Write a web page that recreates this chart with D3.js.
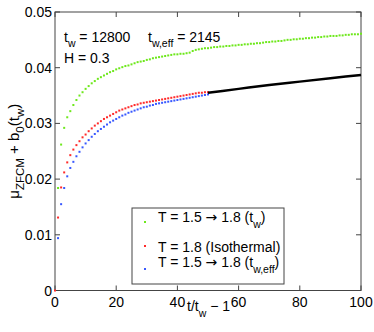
<!DOCTYPE html>
<html>
<head>
<meta charset="utf-8">
<script src="https://d3js.org/d3.v7.min.js"></script>
<style>
  body { margin: 0; background: #fff; }
  text { font-family: "Liberation Sans", Arial, sans-serif; fill: #000; }
  .arrow { font-family: "DejaVu Sans", sans-serif; }
</style>
</head>
<body>
<svg id="chart" width="374" height="332"></svg>
<script>
// values
const xTicks = [0, 20, 40, 60, 80, 100];
const yTicks = [0, 0.01, 0.02, 0.03, 0.04, 0.05];

// T = 1.5 -> 1.8 (t_w), sampled at t/t_w - 1 = 1..100
const greenVals = [
  0.0184, 0.0262, 0.0292, 0.0311, 0.0322, 0.0333, 0.0342, 0.0350, 0.0356, 0.0362,
  0.0367, 0.0372, 0.0376, 0.0380, 0.0383, 0.0386, 0.0389, 0.0392, 0.0394, 0.0397,
  0.0399, 0.0401, 0.0403, 0.0404, 0.0406, 0.0408, 0.0410, 0.0411, 0.0412, 0.0414,
  0.0415, 0.0417, 0.0418, 0.0419, 0.0420, 0.0421, 0.0422, 0.0423, 0.0424, 0.0424,
  0.0425, 0.0425, 0.0426, 0.0427, 0.0430, 0.0432, 0.0433, 0.0434, 0.0435, 0.0435,
  0.0436, 0.0437, 0.0437, 0.0438, 0.0438, 0.0439, 0.0439, 0.0440, 0.0440, 0.0441,
  0.0441, 0.0442, 0.0442, 0.0443, 0.0443, 0.0444, 0.0444, 0.0445, 0.0446, 0.0446,
  0.0447, 0.0447, 0.0448, 0.0448, 0.0449, 0.0450, 0.0450, 0.0451, 0.0451, 0.0452,
  0.0452, 0.0453, 0.0453, 0.0454, 0.0454, 0.0455, 0.0455, 0.0456, 0.0456, 0.0457,
  0.0457, 0.0457, 0.0458, 0.0458, 0.0459, 0.0459, 0.0460, 0.0460, 0.0460, 0.0461
];

// T = 1.8 isothermal, t/t_w - 1 = 0..50
const redVals = [
  0.0000, 0.0131, 0.0185, 0.0212, 0.0230, 0.0243, 0.0253, 0.0261, 0.0268, 0.0275,
  0.0280, 0.0286, 0.0291, 0.0296, 0.0300, 0.0304, 0.0308, 0.0311, 0.0314, 0.0317,
  0.0320, 0.0323, 0.0325, 0.0327, 0.0329, 0.0331, 0.0333, 0.0334, 0.0336, 0.0337,
  0.0338, 0.0339, 0.0340, 0.0341, 0.0342, 0.0343, 0.0344, 0.0345, 0.0346, 0.0347,
  0.0348, 0.0349, 0.0350, 0.0351, 0.0352, 0.0353, 0.0354, 0.0355, 0.0355, 0.0356,
  0.0356
];

// T = 1.5 -> 1.8 (t_w,eff), t/t_w - 1 = 1..50
const blueVals = [
  0.0094, 0.0155, 0.0184, 0.0205, 0.0220, 0.0231, 0.0241, 0.0249, 0.0257, 0.0264,
  0.0270, 0.0276, 0.0281, 0.0286, 0.0290, 0.0294, 0.0298, 0.0302, 0.0305, 0.0308,
  0.0311, 0.0314, 0.0316, 0.0319, 0.0321, 0.0323, 0.0325, 0.0327, 0.0329, 0.0330,
  0.0332, 0.0333, 0.0335, 0.0336, 0.0337, 0.0338, 0.0339, 0.0340, 0.0341, 0.0342,
  0.0343, 0.0344, 0.0345, 0.0346, 0.0347, 0.0348, 0.0349, 0.0350, 0.0351, 0.0352
];

// black fit line
const fitX = [50, 60, 70, 80, 90, 100];
const fitVals = [0.0355, 0.0362, 0.0369, 0.0375, 0.0381, 0.0387];

const width = 374, height = 332;
const margin = { top: 12, right: 13, bottom: 41.5, left: 55 };
const fs = 14, subFs = 10.5;

const svg = d3.select("#chart");

const x = d3.scaleLinear().domain([0, 100]).range([margin.left, width - margin.right]);
const y = d3.scaleLinear().domain([0, 0.05]).range([height - margin.bottom, margin.top]);

const greenData = greenVals.map((v, i) => [i + 1, v]);
const redData = redVals.map((v, i) => [i, v]);
const blueData = blueVals.map((v, i) => [i + 1, v]);
const fitData = fitX.map((v, i) => [v, fitVals[i]]);

// frame
const x0 = x(0), x1 = x(100), y0 = y(0), y1 = y(0.05);
svg.append("rect")
  .attr("x", x0).attr("y", y1)
  .attr("width", x1 - x0).attr("height", y0 - y1)
  .attr("fill", "none").attr("stroke", "#444").attr("stroke-width", 1);

// ticks (inward, both sides)
const tickLen = 5;
svg.append("g").selectAll("line")
  .data(xTicks).join("line")
  .attr("x1", d => x(d)).attr("x2", d => x(d))
  .attr("y1", y0).attr("y2", y0 - tickLen)
  .attr("stroke", "#444");
svg.append("g").selectAll("line")
  .data(xTicks).join("line")
  .attr("x1", d => x(d)).attr("x2", d => x(d))
  .attr("y1", y1).attr("y2", y1 + tickLen)
  .attr("stroke", "#444");
svg.append("g").selectAll("line")
  .data(yTicks).join("line")
  .attr("x1", x0).attr("x2", x0 + tickLen)
  .attr("y1", d => y(d)).attr("y2", d => y(d))
  .attr("stroke", "#444");
svg.append("g").selectAll("line")
  .data(yTicks).join("line")
  .attr("x1", x1).attr("x2", x1 - tickLen)
  .attr("y1", d => y(d)).attr("y2", d => y(d))
  .attr("stroke", "#444");

// tick labels
svg.append("g").selectAll("text")
  .data(xTicks).join("text")
  .attr("x", d => x(d)).attr("y", y0 + 16)
  .attr("text-anchor", "middle")
  .style("font-size", fs + "px")
  .text(d => d);
svg.append("g").selectAll("text")
  .data(yTicks).join("text")
  .attr("x", x0 - 3).attr("y", d => y(d) + 5)
  .attr("text-anchor", "end")
  .style("font-size", fs + "px")
  .text(d => d === 0 ? "0" : d3.format(".2f")(d));

// data markers
function dots(data, color) {
  svg.append("g").selectAll("rect")
    .data(data).join("rect")
    .attr("x", d => x(d[0]) - 1).attr("y", d => y(d[1]) - 1)
    .attr("width", 2).attr("height", 2)
    .attr("fill", color);
}
dots(greenData, "#6ee81c");
dots(redData, "#ff2a2a");
dots(blueData, "#3858ff");

svg.append("path")
  .datum(fitData)
  .attr("fill", "none")
  .attr("stroke", "#000")
  .attr("stroke-width", 2.5)
  .attr("d", d3.line().x(d => x(d[0])).y(d => y(d[1])).curve(d3.curveMonotoneX));

// text with subscripts: parts = [[text, isSub, cls], ...]
function richText(g, parts, size, subSize, shift) {
  let sub = false;
  parts.forEach(([t, s, cls]) => {
    const ts = g.append("tspan").text(t).style("font-size", (s ? subSize : size) + "px");
    if (cls) ts.attr("class", cls);
    if (s && !sub) ts.attr("dy", shift);
    if (!s && sub) ts.attr("dy", -shift);
    sub = s;
  });
  return g;
}

richText(svg.append("text").attr("x", 64).attr("y", 42),
  [["t", false], ["w", true], [" = 12800", false]], fs, subFs, 5);
richText(svg.append("text").attr("x", 148).attr("y", 42),
  [["t", false], ["w,eff", true], [" = 2145", false]], fs, subFs, 5);
richText(svg.append("text").attr("x", 64).attr("y", 63),
  [["H = 0.3", false]], fs, subFs, 5);

// axis labels
richText(svg.append("text").attr("x", 187).attr("y", 311),
  [["t/t", false], ["w", true], [" \u2212 1", false]], fs, subFs, 6);

richText(svg.append("text")
    .attr("transform", `translate(19,${(y0 + y1) / 2}) rotate(-90)`)
    .attr("text-anchor", "middle"),
  [["\u03bc", false], ["ZFCM", true], [" + b", false], ["0", true], ["(t", false], ["w", true], [")", false]],
  15, 11.5, 5);

// legend
const legend = svg.append("g");
legend.append("rect")
  .attr("x", 132).attr("y", 208)
  .attr("width", 152).attr("height", 76)
  .attr("fill", "#fff").attr("stroke", "#444");

const legendItems = [
  { color: "#6ee81c", my: 222, ty: 222,
    parts: [["T = 1.5 ", false], ["\u2192", false, "arrow"], [" 1.8 (t", false], ["w", true], [")", false]] },
  { color: "#ff2a2a", my: 246, ty: 251.5,
    parts: [["T = 1.8 (Isothermal)", false]] },
  { color: "#3858ff", my: 269, ty: 266.5,
    parts: [["T = 1.5 ", false], ["\u2192", false, "arrow"], [" 1.8 (t", false], ["w,eff", true], [")", false]] }
];
legendItems.forEach(it => {
  legend.append("rect")
    .attr("x", 144).attr("y", it.my - 1)
    .attr("width", 2).attr("height", 2)
    .attr("fill", it.color);
  richText(legend.append("text").attr("x", 158).attr("y", it.ty), it.parts, fs, subFs, 6);
});
</script>
</body>
</html>
